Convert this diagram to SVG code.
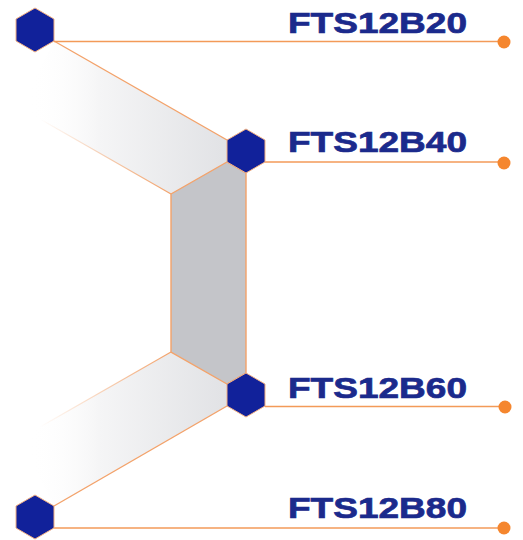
<svg xmlns="http://www.w3.org/2000/svg" width="523" height="540" viewBox="0 0 523 540">
  <defs>
    <linearGradient id="gUp" gradientUnits="userSpaceOnUse" x1="30" y1="0" x2="228" y2="0">
      <stop offset="0" stop-color="#ffffff" stop-opacity="0"/>
      <stop offset="0.35" stop-color="#f5f5f6"/>
      <stop offset="1" stop-color="#e1e2e5"/>
    </linearGradient>
    <linearGradient id="gFadeUp" gradientUnits="userSpaceOnUse" x1="171" y1="194" x2="40" y2="119">
      <stop offset="0" stop-color="#f3a26a" stop-opacity="1"/>
      <stop offset="1" stop-color="#f3a26a" stop-opacity="0"/>
    </linearGradient>
    <linearGradient id="gFadeDn" gradientUnits="userSpaceOnUse" x1="171" y1="352" x2="40" y2="428">
      <stop offset="0" stop-color="#f3a26a" stop-opacity="1"/>
      <stop offset="1" stop-color="#f3a26a" stop-opacity="0"/>
    </linearGradient>
    <style>
      .edge { stroke: #f3a26a; stroke-width: 1.4; fill: none; }
      .conn { stroke: #f39a58; stroke-width: 1.6; fill: none; }
      .dot { fill: #f5862e; }
      .hex { fill: #11219a; stroke: #f2b083; stroke-width: 1; }
      .lbl { font-family: "Liberation Sans", Arial, sans-serif; font-weight: bold; font-size: 30px; fill: #1b2a8c; stroke: #1b2a8c; stroke-width: 0.7; }
    </style>
  </defs>

  <g id="ribbons">
    <polygon points="54,41 227,140 227,162 171,194 20,108" fill="url(#gUp)"/>
    <polygon points="54,506 227,406 227,384 171,352 20,439" fill="url(#gUp)"/>
    <line x1="171" y1="194" x2="40" y2="119" stroke="url(#gFadeUp)" stroke-width="1.2"/>
    <line x1="171" y1="352" x2="40" y2="427" stroke="url(#gFadeDn)" stroke-width="1.2"/>
    <polygon class="edge" points="171,194 227,162 246,173 246,373 227,384 171,352" style="fill:#c4c5c9"/>
  </g>

  <g id="connectors">
    <line class="edge" x1="54" y1="41" x2="227" y2="140"/>
    <line class="edge" x1="54" y1="506" x2="227" y2="406"/>
    <line class="conn" x1="54" y1="41.5" x2="504" y2="41.5"/>
    <line class="conn" x1="265" y1="162" x2="504" y2="162"/>
    <line class="conn" x1="265" y1="406.5" x2="504" y2="406.5"/>
    <line class="conn" x1="54" y1="528" x2="504" y2="528"/>
    <circle class="dot" cx="504" cy="42" r="6.5"/>
    <circle class="dot" cx="504" cy="163" r="6.5"/>
    <circle class="dot" cx="505" cy="407" r="6.5"/>
    <circle class="dot" cx="504" cy="528" r="6.5"/>
  </g>

  <g id="n20">
    <polygon class="hex" points="35,8 54,19 54,41 35,52 16,41 16,19"/>
    <text class="lbl" x="288" y="33" textLength="179" lengthAdjust="spacingAndGlyphs">FTS12B20</text>
  </g>
  <g id="n40">
    <polygon class="hex" points="246,129 265,140 265,162 246,173 227,162 227,140"/>
    <text class="lbl" x="288" y="152" textLength="179" lengthAdjust="spacingAndGlyphs">FTS12B40</text>
  </g>
  <g id="n60">
    <polygon class="hex" points="246,373 265,384 265,406 246,417 227,406 227,384"/>
    <text class="lbl" x="288" y="398" textLength="179" lengthAdjust="spacingAndGlyphs">FTS12B60</text>
  </g>
  <g id="n80">
    <polygon class="hex" points="35,495 54,506 54,528 35,539 16,528 16,506"/>
    <text class="lbl" x="288" y="518" textLength="179" lengthAdjust="spacingAndGlyphs">FTS12B80</text>
  </g>
</svg>
